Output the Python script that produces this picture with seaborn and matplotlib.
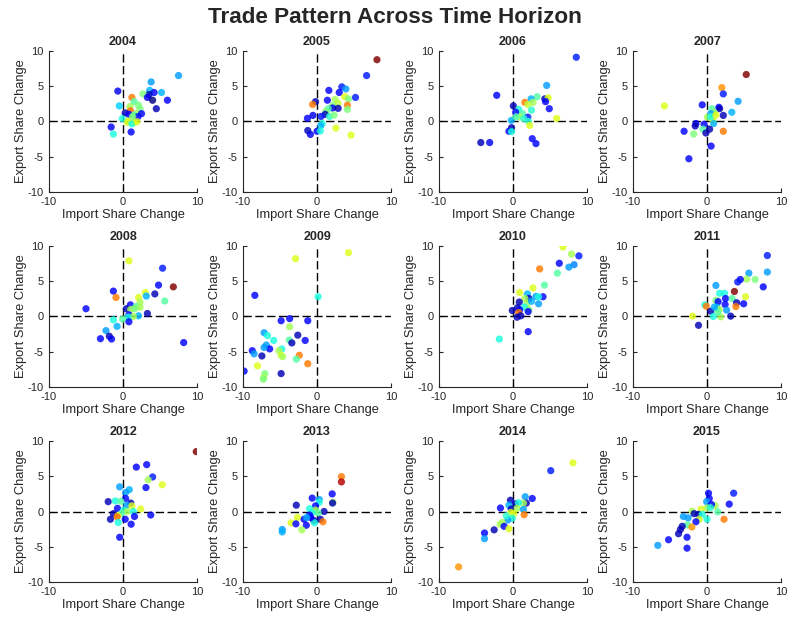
import numpy as np
import pandas as pd
import matplotlib
matplotlib.use("Agg")
import matplotlib.pyplot as plt
import seaborn as sns

# Import-share change (x), export-share change (y) and colour value per country, by year
imp_2004 = [7.5, 3.8, -0.7, 3.6, 5.2, 4.2, 3.5, 2.7, 1.2, 3.3, 4.0, 6.0, -0.5, 1.5, 2.1, 0.95, 4.5, 2.3, 1.0, 1.8, 2.5, 0.3, 0.8, 1.5, 2.0, -0.1, 0.7, 1.5, 0.6, 1.2, -1.6, 1.1, -1.3, 1.9, 1.3]
exp_2004 = [6.5, 5.6, 4.3, 4.4, 4.1, 4.1, 3.8, 3.9, 3.4, 3.4, 3.0, 3.0, 2.2, 2.8, 2.3, 2.1, 1.8, 1.75, 1.5, 1.1, 1.1, 1.2, 1.0, 0.9, 0.66, 0.4, 0.05, -0.15, -0.15, -0.35, -0.8, -1.5, -1.8, -0.05, 0.66]
col_2004 = [0.28, 0.28, 0.1, 0.3, 0.3, 0.12, 0.05, 0.5, 0.78, 0.1, 0.0, 0.12, 0.33, 0.45, 0.5, 0.55, 0.05, 0.5, 0.8, 0.55, 0.12, 0.05, 0.12, 0.45, 0.12, 0.38, 0.62, 0.62, 0.6, 0.38, 0.1, 0.12, 0.38, 0.62, 0.5]

imp_2005 = [8.1, 6.7, 3.35, 1.6, 3.9, 3.0, 5.2, -0.2, 1.4, 3.75, 4.25, 2.45, -0.6, 4.1, 2.85, 2.1, 4.1, 2.1, 2.85, 1.5, 1.2, 1.1, -0.55, -1.3, 0.55, 1.7, 0.7, 0.5, 2.55, -1.25, -0.9, 0.0, 0.45, 4.6, 2.3]
exp_2005 = [8.75, 6.5, 4.9, 4.4, 4.6, 4.1, 3.4, 2.8, 3.0, 3.5, 3.2, 3.1, 2.4, 2.3, 2.55, 2.2, 1.7, 1.9, 1.85, 1.8, 1.4, 1.0, 0.85, 0.43, 0.7, 0.7, -0.3, -0.6, -0.95, -1.3, -1.85, -1.4, -1.35, -1.95, 0.9]
col_2005 = [1.0, 0.15, 0.15, 0.12, 0.28, 0.12, 0.15, 0.05, 0.12, 0.62, 0.5, 0.55, 0.78, 0.78, 0.58, 0.5, 0.5, 0.1, 0.05, 0.45, 0.5, 0.05, 0.1, 0.12, 0.15, 0.4, 0.38, 0.3, 0.62, 0.05, 0.1, 0.12, 0.38, 0.62, 0.5]

imp_2006 = [8.55, 4.55, -2.2, 3.25, 2.45, 4.3, 4.75, 4.4, 1.6, 2.7, 2.0, 0.05, 2.5, 0.77, 4.9, 0.36, 1.3, 2.0, 0.9, 5.9, -0.23, 2.1, 2.25, -0.2, -0.55, -0.2, 2.6, 3.1, -4.35, -3.15, 1.45, 0.4]
exp_2006 = [9.1, 5.1, 3.7, 3.5, 3.2, 3.2, 3.35, 2.8, 2.7, 2.7, 2.4, 2.2, 1.6, 1.7, 1.8, 1.3, 1.1, 0.6, 0.6, 0.42, 0.14, 0.0, -0.57, -0.9, -1.4, -1.45, -2.45, -3.15, -3.0, -3.0, 0.4, 0.65]
col_2006 = [0.15, 0.28, 0.12, 0.45, 0.3, 0.05, 0.62, 0.12, 0.78, 0.55, 0.58, 0.05, 0.4, 0.38, 0.12, 0.12, 0.45, 0.15, 0.55, 0.62, 0.3, 0.4, 0.62, 0.05, 0.12, 0.38, 0.12, 0.12, 0.05, 0.1, 0.4, 0.44]

imp_2007 = [5.3, 2.0, 2.2, 4.2, -5.75, -0.65, 1.6, 0.65, 1.7, 3.35, 2.2, 0.95, 0.5, 0.05, 0.8, 0.9, -1.5, -1.6, -0.4, -0.55, 0.35, -3.1, -1.8, -0.15, 2.2, 0.55, -2.45, 0.5, 1.2]
exp_2007 = [6.65, 4.8, 3.9, 2.85, 2.2, 2.35, 2.0, 1.8, 1.8, 1.3, 0.85, 1.3, 1.1, 0.6, 0.15, -0.3, -0.3, -0.65, -0.4, -1.1, -1.1, -1.4, -1.8, -1.65, -1.4, -3.5, -5.3, 0.66, 0.9]
col_2007 = [1.0, 0.75, 0.15, 0.28, 0.62, 0.12, 0.12, 0.45, 0.05, 0.3, 0.05, 0.5, 0.28, 0.55, 0.6, 0.3, 0.1, 0.05, 0.12, 0.45, 0.05, 0.12, 0.5, 0.05, 0.78, 0.12, 0.12, 0.38, 0.62]

imp_2008 = [0.8, 5.35, 6.8, 4.8, -1.3, 4.3, 3.0, 3.15, 2.1, -0.95, 5.65, 2.3, 1.0, -5.0, 1.75, 2.3, 0.45, 1.05, 1.55, 3.3, 0.8, 2.1, 1.4, 0.7, -1.3, -0.05, 0.8, -0.8, -2.3, -1.85, -1.55, -3.05, 8.2]
exp_2008 = [7.9, 6.85, 4.2, 4.45, 3.6, 3.2, 3.4, 2.9, 2.7, 2.7, 2.2, 2.0, 1.65, 1.1, 1.4, 1.3, 1.1, 1.0, 1.1, 0.42, 0.24, 0.1, 0.0, -0.1, -0.47, -0.38, -0.75, -1.4, -2.0, -2.8, -3.2, -3.15, -3.7]
col_2008 = [0.62, 0.15, 1.0, 0.12, 0.12, 0.05, 0.62, 0.3, 0.62, 0.78, 0.45, 0.55, 0.12, 0.12, 0.45, 0.55, 0.05, 0.55, 0.5, 0.05, 0.12, 0.3, 0.55, 0.38, 0.38, 0.45, 0.12, 0.3, 0.28, 0.05, 0.12, 0.12, 0.12]

imp_2009 = [4.25, -2.9, -8.4, 0.15, -3.7, -4.85, -1.25, -3.7, -7.15, -2.6, -6.7, -5.85, -1.6, -3.75, -3.4, -6.85, -6.4, -7.15, -4.75, -8.75, -8.5, -5.15, -4.85, -7.45, -4.65, -2.4, -2.8, -1.25, -8.05, -9.85, -7.05, -4.85, -7.2, -7.25]
exp_2009 = [9.05, 8.2, 3.0, 2.8, -0.3, -0.6, -0.6, -1.45, -2.3, -2.65, -2.7, -3.4, -3.4, -3.35, -3.75, -4.05, -4.6, -4.4, -4.6, -4.85, -5.3, -4.85, -5.5, -5.6, -5.7, -5.5, -6.05, -6.7, -7.0, -7.75, -8.1, -8.1, -8.65, -8.9]
col_2009 = [0.62, 0.62, 0.12, 0.38, 0.12, 0.12, 0.12, 0.55, 0.28, 0.05, 0.38, 0.38, 0.12, 0.45, 0.05, 0.28, 0.12, 0.28, 0.38, 0.12, 0.28, 0.55, 0.6, 0.05, 0.55, 0.78, 0.45, 0.78, 0.62, 0.12, 0.5, 0.05, 0.55, 0.5]

imp_2010 = [6.75, 7.9, 8.9, 6.25, 8.25, 7.55, 3.6, 6.0, 4.25, 2.7, 0.9, 1.95, 2.15, 1.6, 3.1, 4.05, 3.45, 0.85, 1.9, 3.45, 2.5, 0.6, 1.55, 2.15, -0.1, 0.9, 2.05, 0.75, 1.05, 0.55, 2.05, -1.85]
exp_2010 = [9.85, 8.85, 8.6, 7.55, 7.35, 7.0, 6.75, 6.15, 4.45, 4.05, 3.4, 3.2, 2.55, 2.55, 2.85, 2.8, 2.8, 2.05, 1.8, 1.8, 2.15, 1.25, 1.35, 0.95, 0.85, 0.95, 0.7, 0.55, 0.1, -0.1, -2.15, -3.2]
col_2010 = [0.62, 0.55, 0.15, 0.12, 0.25, 0.28, 0.78, 0.45, 0.45, 0.62, 0.62, 0.3, 0.05, 0.55, 0.28, 0.12, 0.38, 0.05, 0.55, 0.28, 0.3, 0.05, 0.38, 0.5, 0.05, 0.12, 0.12, 0.78, 0.05, 0.05, 0.12, 0.38]

imp_2011 = [8.15, 8.15, 5.65, 6.5, 5.35, 4.5, 4.15, 7.6, 1.2, 3.7, 1.7, 2.35, 2.5, 3.4, 5.2, 1.2, 4.0, 4.95, 2.45, 1.5, -0.3, -0.1, 3.9, 1.35, 0.5, 1.65, 2.65, 0.85, 1.85, 3.2, -1.95, -1.15, 1.45, 1.0]
exp_2011 = [8.65, 6.3, 6.15, 5.25, 5.3, 5.25, 4.9, 4.2, 4.4, 3.55, 3.3, 3.3, 2.55, 2.55, 2.8, 2.3, 1.95, 1.8, 1.7, 2.1, 1.65, 1.45, 1.4, 1.3, 0.75, 1.0, 0.9, 0.0, -0.05, 0.05, 0.05, -1.25, 0.6, 1.35]
col_2011 = [0.15, 0.28, 0.28, 0.5, 0.55, 0.12, 0.15, 0.12, 0.28, 1.0, 0.38, 0.38, 0.12, 0.45, 0.62, 0.5, 0.05, 0.12, 0.12, 0.12, 0.38, 0.78, 0.78, 0.3, 0.05, 0.55, 0.28, 0.38, 0.55, 0.05, 0.62, 0.05, 0.45, 0.3]

imp_2012 = [9.9, 3.2, 1.8, 4.0, 3.4, 5.3, -0.45, 3.1, 0.85, 0.35, 0.35, -2.0, -1.05, -0.3, 1.05, 0.5, 1.2, -0.75, 2.4, 0.1, 0.55, 1.4, -0.25, -1.3, -0.7, -0.8, 1.55, 3.75, -1.7, 0.3, -0.65, 1.1, -0.45]
exp_2012 = [8.5, 6.65, 6.3, 4.9, 4.5, 3.8, 3.5, 3.4, 3.1, 2.7, 1.85, 1.4, 1.5, 1.45, 1.2, 0.9, 0.8, 0.45, 0.35, 0.2, 0.0, 0.0, -0.3, -0.3, -0.6, -0.75, -0.7, -0.5, -1.1, -1.1, -1.55, -1.8, -3.65]
col_2012 = [1.0, 0.12, 0.12, 0.15, 0.55, 0.62, 0.28, 0.12, 0.3, 0.28, 0.12, 0.05, 0.38, 0.45, 0.05, 0.28, 0.62, 0.12, 0.62, 0.38, 0.55, 0.38, 0.45, 0.05, 0.62, 0.8, 0.12, 0.12, 0.05, 0.12, 0.38, 0.12, 0.12]

imp_2013 = [3.3, 3.3, 2.05, 2.15, 2.1, -0.65, 0.3, 0.3, -0.2, -2.8, -1.0, 0.95, -0.2, -0.65, -1.0, 0.15, -2.65, -1.75, -0.45, 0.45, 0.8, -0.35, -3.5, -2.85, -1.45, -2.05, -4.7, -4.7, -0.85, -1.4]
exp_2013 = [4.95, 4.2, 2.5, 1.3, 1.2, 1.9, 1.7, 1.3, 0.8, 0.9, 0.4, 0.0, 0.2, -0.15, -0.5, -0.2, -0.85, -1.1, -1.25, -1.1, -1.45, -1.6, -1.6, -1.75, -1.95, -2.6, -2.55, -2.9, -0.85, -0.85]
col_2013 = [0.78, 0.95, 0.12, 0.55, 0.05, 0.12, 0.28, 0.38, 0.12, 0.05, 0.38, 0.05, 0.55, 0.38, 0.12, 0.45, 0.62, 0.12, 0.05, 0.05, 0.78, 0.38, 0.62, 0.12, 0.12, 0.55, 0.28, 0.3, 0.12, 0.3]

imp_2014 = [8.1, 5.1, 2.6, 1.65, 1.8, 1.4, -0.35, 0.3, 0.75, -0.55, -0.25, -1.7, 0.55, 1.4, -0.3, 0.1, 1.5, -0.1, -0.7, -1.45, -1.75, -1.2, -0.55, -2.55, -3.85, -3.85, -7.35, -0.9]
exp_2014 = [6.9, 5.8, 1.85, 2.1, 1.2, 1.2, 1.6, 1.1, 1.25, 0.9, 0.35, 0.5, 0.45, 0.3, -0.15, -0.3, -0.45, -0.95, -1.2, -1.55, -1.8, -2.1, -2.45, -2.6, -3.05, -3.85, -7.85, -0.6]
col_2014 = [0.62, 0.15, 0.12, 0.28, 0.05, 0.55, 0.05, 0.05, 0.38, 0.3, 0.05, 0.12, 0.55, 0.28, 0.62, 0.62, 0.78, 0.38, 0.28, 0.55, 0.55, 0.12, 0.62, 0.05, 0.12, 0.28, 0.75, 0.4]

imp_2015 = [3.6, 0.2, 0.3, -0.05, 3.0, 1.1, 0.6, 0.0, -0.8, -2.0, 1.45, -1.75, -1.15, -0.65, -3.2, -2.55, 0.0, 2.3, -1.05, -1.5, -2.65, -2.05, -3.35, -3.6, -3.85, -2.7, -5.2, -6.65, -2.7, 0.45]
exp_2015 = [2.6, 2.6, 1.85, 1.4, 1.05, 0.85, 1.0, 0.5, 0.35, 0.05, -0.05, -0.3, -0.4, -0.4, -0.7, -0.9, -1.1, -1.1, -1.1, -1.45, -1.9, -2.2, -2.1, -2.55, -3.15, -3.65, -4.0, -4.8, -5.2, 0.55]
col_2015 = [0.15, 0.12, 0.12, 0.28, 0.12, 0.55, 0.12, 0.55, 0.62, 0.55, 0.45, 0.05, 0.05, 0.38, 0.28, 0.28, 0.38, 0.78, 0.6, 0.12, 0.45, 0.75, 0.05, 0.05, 0.05, 0.12, 0.12, 0.28, 0.12, 0.4]

years = list(range(2004, 2016))
series = {
    2004: (imp_2004, exp_2004, col_2004), 2005: (imp_2005, exp_2005, col_2005),
    2006: (imp_2006, exp_2006, col_2006), 2007: (imp_2007, exp_2007, col_2007),
    2008: (imp_2008, exp_2008, col_2008), 2009: (imp_2009, exp_2009, col_2009),
    2010: (imp_2010, exp_2010, col_2010), 2011: (imp_2011, exp_2011, col_2011),
    2012: (imp_2012, exp_2012, col_2012), 2013: (imp_2013, exp_2013, col_2013),
    2014: (imp_2014, exp_2014, col_2014), 2015: (imp_2015, exp_2015, col_2015),
}
x_ticks = [-10, 0, 10]
y_ticks = [-10, -5, 0, 5, 10]

sns.set_theme(style="white")
plt.rcParams["font.family"] = ["Liberation Sans", "DejaVu Sans"]
plt.rcParams["axes.unicode_minus"] = False

jet = matplotlib.colormaps["jet"]

fig = plt.figure(figsize=(7.89, 6.17), dpi=100)
lefts = [0.0621, 0.308, 0.5564, 0.8023]
bottoms = [0.689, 0.3728, 0.0567]
w, h = 0.1876, 0.2285

for i, yr in enumerate(years):
    r, c = divmod(i, 4)
    ax = fig.add_axes([lefts[c], bottoms[r], w, h])
    xs, ys, cs = series[yr]
    df = pd.DataFrame({"imp": xs, "exp": ys, "val": cs})
    ax.axhline(0, color="black", lw=1.0, ls=(0, (6, 2.5)), zorder=1)
    ax.axvline(0, color="black", lw=1.0, ls=(0, (6, 2.5)), zorder=1)
    sns.scatterplot(data=df, x="imp", y="exp", hue="val", palette=jet,
                    hue_norm=(0, 1), s=27, alpha=0.82, linewidth=0,
                    legend=False, ax=ax, zorder=2)
    ax.set_xlim(-10, 10)
    ax.set_ylim(-10, 10)
    ax.set_xticks(x_ticks)
    ax.set_yticks(y_ticks)
    ax.set_xlabel("Import Share Change", fontsize=9.3, color="#262626", labelpad=1.5)
    ax.set_ylabel("Export Share Change", fontsize=9.3, color="#262626", labelpad=0)
    ax.set_title(str(yr), fontsize=9, fontweight="bold", pad=4)
    for s in ["top", "right"]:
        ax.spines[s].set_visible(False)
    for s in ["left", "bottom"]:
        ax.spines[s].set_color("#262626")
        ax.spines[s].set_linewidth(0.8)
    ax.tick_params(direction="in", length=3, width=0.8, labelsize=8,
                   colors="#262626", left=True, bottom=True)
    ax.tick_params(axis="x", pad=3.5)
    ax.tick_params(axis="y", pad=4)

fig.suptitle("Trade Pattern Across Time Horizon", fontsize=16.2, fontweight="bold", y=0.988)
fig.savefig("out.png", dpi=100)
